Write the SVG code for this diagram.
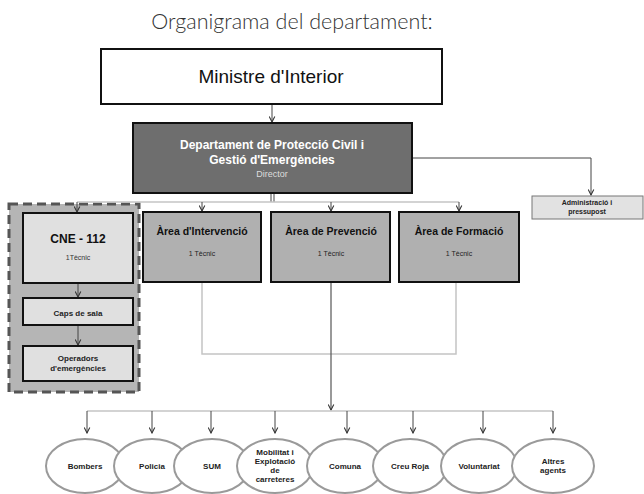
<svg xmlns="http://www.w3.org/2000/svg" width="644" height="494" viewBox="0 0 644 494">
<defs>
<marker id="arr" viewBox="0 0 10 10" refX="9" refY="5" markerWidth="7" markerHeight="7" markerUnits="userSpaceOnUse" orient="auto">
<path d="M1,1 L9,5 L1,9" fill="none" stroke="#333" stroke-width="1.5"/>
</marker>
<style>
.t{font-family:"Liberation Sans",Arial,sans-serif;text-anchor:middle}
.b{font-weight:bold}
.box{stroke:#111;stroke-width:2}
.ell{fill:#fff;stroke:#9a9a9a;stroke-width:2}
.el{font-family:"Liberation Sans",Arial,sans-serif;font-weight:bold;font-size:8px;fill:#222;text-anchor:middle}
.dk{stroke:#444;stroke-width:1;fill:none}
.lt{stroke:#c4c4c4;stroke-width:1.5;fill:none}
</style>
</defs>
<rect width="644" height="494" fill="#fff"/>
<text x="292" y="29" font-family="Lato,'Open Sans',sans-serif" font-size="21.5" font-weight="300" fill="#333" text-anchor="middle">Organigrama del departament:</text>

<g id="group-cne">
<rect x="9" y="204" width="130" height="188" fill="#b5b5b5" stroke="#555" stroke-width="3" stroke-dasharray="9,5"/>
</g>

<g id="connectors">
<line x1="272" y1="104" x2="272" y2="122" class="dk" marker-end="url(#arr)"/>
<polyline points="412,158 591,158 591,195" class="dk" marker-end="url(#arr)"/>
<line x1="271" y1="193" x2="271" y2="202" stroke="#444" stroke-width="1"/>
<line x1="274" y1="193" x2="274" y2="202" stroke="#444" stroke-width="1"/>
<line x1="77" y1="202" x2="459" y2="202" class="lt"/>
<line x1="77" y1="202" x2="77" y2="212" class="dk" marker-end="url(#arr)"/>
<line x1="202" y1="202" x2="202" y2="211" class="dk" marker-end="url(#arr)"/>
<line x1="331" y1="202" x2="331" y2="211" class="dk" marker-end="url(#arr)"/>
<line x1="459" y1="202" x2="459" y2="211" class="dk" marker-end="url(#arr)"/>
<line x1="78" y1="283" x2="78" y2="297" class="dk" marker-end="url(#arr)"/>
<line x1="78" y1="325" x2="78" y2="345" class="dk" marker-end="url(#arr)"/>
<polyline points="202,282 202,354 456,354 456,282" class="lt"/>
<line x1="331" y1="282" x2="331" y2="410" stroke="#555" stroke-width="1.2" marker-end="url(#arr)"/>
<line x1="87" y1="411" x2="553" y2="411" class="lt"/>
<line x1="87" y1="411" x2="87" y2="433" class="dk" marker-end="url(#arr)"/>
<line x1="152" y1="411" x2="152" y2="433" class="dk" marker-end="url(#arr)"/>
<line x1="211" y1="411" x2="211" y2="433" class="dk" marker-end="url(#arr)"/>
<line x1="275" y1="411" x2="275" y2="433" class="dk" marker-end="url(#arr)"/>
<line x1="347" y1="411" x2="347" y2="433" class="dk" marker-end="url(#arr)"/>
<line x1="413" y1="411" x2="413" y2="433" class="dk" marker-end="url(#arr)"/>
<line x1="483" y1="411" x2="483" y2="433" class="dk" marker-end="url(#arr)"/>
<line x1="553" y1="411" x2="553" y2="433" class="dk" marker-end="url(#arr)"/>
</g>

<g id="ministre">
<rect x="101" y="49" width="341" height="55" fill="#fff" class="box"/>
<text x="271" y="83" class="t" font-size="19" fill="#111">Ministre d'Interior</text>
</g>

<g id="departament">
<rect x="133" y="123" width="279" height="70" fill="#6e6e6e" class="box"/>
<text x="272" y="149" class="t b" font-size="12" fill="#fff">Departament de Protecció Civil i</text>
<text x="272" y="164" class="t b" font-size="12" fill="#fff">Gestió d'Emergències</text>
<text x="272" y="177" class="t" font-size="9" fill="#ddd">Director</text>
</g>

<g id="administracio">
<rect x="532" y="196" width="111" height="23" fill="#e2e2e2" stroke="#777" stroke-width="1"/>
<text x="587" y="205" class="t b" font-size="7" fill="#222">Administració i</text>
<text x="587" y="214" class="t b" font-size="7" fill="#222">pressupost</text>
</g>

<g id="cne112">
<rect x="23" y="213" width="110" height="70" fill="#e0e0e0" class="box"/>
<text x="78" y="243" class="t b" font-size="12" fill="#111">CNE - 112</text>
<text x="78" y="260" class="t" font-size="7" fill="#333">1Tècnic</text>
</g>

<g id="caps-sala">
<rect x="23" y="298" width="110" height="27" fill="#e0e0e0" class="box"/>
<text x="78" y="316" class="t b" font-size="8" fill="#222">Caps de sala</text>
</g>

<g id="operadors">
<rect x="23" y="346" width="110" height="35" fill="#e0e0e0" class="box"/>
<text x="78" y="361" class="t b" font-size="8" fill="#222">Operadors</text>
<text x="78" y="371" class="t b" font-size="8" fill="#222">d'emergències</text>
</g>

<g id="area-intervencio">
<rect x="143" y="212" width="118" height="70" fill="#b0b0b0" class="box"/>
<text x="202" y="235" class="t b" font-size="10.5" fill="#111">Àrea d'Intervenció</text>
<text x="202" y="256" class="t" font-size="7" fill="#222">1 Tècnic</text>
</g>

<g id="area-prevencio">
<rect x="271" y="212" width="119" height="70" fill="#b0b0b0" class="box"/>
<text x="331" y="235" class="t b" font-size="10.5" fill="#111">Àrea de Prevenció</text>
<text x="331" y="256" class="t" font-size="7" fill="#222">1 Tècnic</text>
</g>

<g id="area-formacio">
<rect x="399" y="212" width="120" height="70" fill="#b0b0b0" class="box"/>
<text x="459" y="235" class="t b" font-size="10.5" fill="#111">Àrea de Formació</text>
<text x="459" y="256" class="t" font-size="7" fill="#222">1 Tècnic</text>
</g>

<g id="bombers">
<ellipse cx="85" cy="466" rx="39" ry="27" class="ell"/>
<text x="85" y="469" class="el">Bombers</text>
</g>
<g id="policia">
<ellipse cx="152" cy="466" rx="38" ry="27" class="ell"/>
<text x="152" y="469" class="el">Policia</text>
</g>
<g id="sum">
<ellipse cx="212" cy="466" rx="38" ry="27" class="ell"/>
<text x="212" y="469" class="el">SUM</text>
</g>
<g id="mobilitat">
<ellipse cx="275" cy="466" rx="38" ry="27" class="ell"/>
<text x="275" y="455" class="el">Mobilitat i</text>
<text x="275" y="464" class="el">Explotació</text>
<text x="275" y="473" class="el">de</text>
<text x="275" y="482" class="el">carreteres</text>
</g>
<g id="comuna">
<ellipse cx="345" cy="466" rx="38" ry="27" class="ell"/>
<text x="345" y="469" class="el">Comuna</text>
</g>
<g id="creu-roja">
<ellipse cx="410" cy="466" rx="37" ry="27" class="ell"/>
<text x="410" y="469" class="el">Creu Roja</text>
</g>
<g id="voluntariat">
<ellipse cx="479" cy="466" rx="38" ry="27" class="ell"/>
<text x="479" y="469" class="el">Voluntariat</text>
</g>
<g id="altres">
<ellipse cx="553" cy="466" rx="41" ry="27" class="ell"/>
<text x="553" y="464" class="el">Altres</text>
<text x="553" y="473" class="el">agents</text>
</g>
</svg>
